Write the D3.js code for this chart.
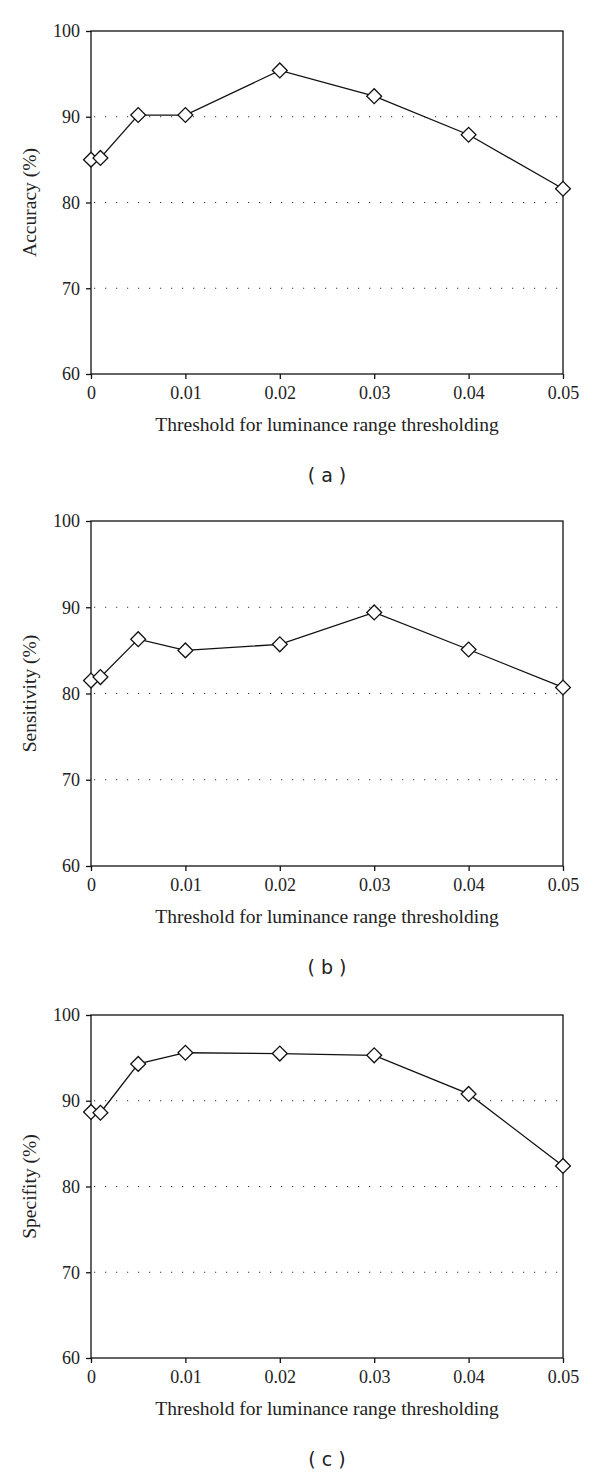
<!DOCTYPE html>
<html><head><meta charset="utf-8">
<script src="https://cdn.jsdelivr.net/npm/d3@7"></script>
<style>body{margin:0;background:#fff}</style>
</head><body>
<script>
const thresholds = [0, 0.001, 0.005, 0.01, 0.02, 0.03, 0.04, 0.05];
const accuracy    = [85.0, 85.2, 90.2, 90.2, 95.4, 92.4, 87.9, 81.6];
const sensitivity = [81.5, 81.9, 86.3, 85.0, 85.7, 89.4, 85.1, 80.7];
const specifity   = [88.7, 88.6, 94.3, 95.6, 95.5, 95.3, 90.8, 82.4];
const xTicks = [0, 0.01, 0.02, 0.03, 0.04, 0.05];
const xTickLabels = ["0", "0.01", "0.02", "0.03", "0.04", "0.05"];
const yTicks = [60, 70, 80, 90, 100];
const gridValues = [70, 80, 90];
const panelTitles = ["Accuracy (%)", "Sensitivity (%)", "Specifity (%)"];
const captions = ["( a )", "( b )", "( c )"];
const xTitle = "Threshold for luminance range thresholding";

const series = [accuracy, sensitivity, specifity];
const layout = [{top: 31, bottom: 374}, {top: 521, bottom: 866}, {top: 1015, bottom: 1358}];
const left = 91, right = 563;
const serif = "'Liberation Serif', 'DejaVu Serif', serif";

const svg = d3.select("body").append("svg").attr("width", 600).attr("height", 1476);

series.forEach((vals, i) => {
  const L = layout[i];
  const x = d3.scaleLinear().domain([0, 0.05]).range([left, right]);
  const y = d3.scaleLinear().domain([60, 100]).range([L.bottom, L.top]);
  const g = svg.append("g");

  // gridlines
  g.selectAll("line.grid").data(gridValues).enter().append("line")
    .attr("x1", left + 3).attr("x2", right - 4)
    .attr("y1", d => y(d)).attr("y2", d => y(d))
    .attr("stroke", "#333").attr("stroke-width", 1.2)
    .attr("stroke-dasharray", "1.2,9.8");

  // frame
  g.append("rect").attr("x", left).attr("y", L.top)
    .attr("width", right - left).attr("height", L.bottom - L.top)
    .attr("fill", "none").attr("stroke", "#111").attr("stroke-width", 1.3);

  // y axis
  const ya = g.append("g").attr("transform", `translate(${left},0)`)
    .call(d3.axisLeft(y).tickValues(yTicks).tickSize(5).tickPadding(6).tickFormat(d3.format("d")));
  ya.select(".domain").remove();
  ya.selectAll("line").attr("stroke", "#111").attr("stroke-width", 1.3);
  ya.selectAll("text").attr("font-family", serif).attr("font-size", 18).attr("fill", "#222");

  // x axis
  const xa = g.append("g").attr("transform", `translate(0,${L.bottom})`)
    .call(d3.axisBottom(x).tickValues(xTicks).tickSize(5).tickPadding(7)
      .tickFormat((d, k) => xTickLabels[k]));
  xa.select(".domain").remove();
  xa.selectAll("line").attr("stroke", "#111").attr("stroke-width", 1.3);
  xa.selectAll("text").attr("font-family", serif).attr("font-size", 18).attr("fill", "#222");

  // line
  const pts = thresholds.map((t, k) => [t, vals[k]]);
  g.append("path").datum(pts)
    .attr("d", d3.line().x(d => x(d[0])).y(d => y(d[1])))
    .attr("fill", "none").attr("stroke", "#111").attr("stroke-width", 1.3);

  // markers
  g.selectAll("path.m").data(pts).enter().append("path")
    .attr("d", d3.symbol().type(d3.symbolSquare).size(110))
    .attr("transform", d => `translate(${x(d[0])},${y(d[1])}) rotate(45)`)
    .attr("fill", "#fff").attr("stroke", "#111").attr("stroke-width", 1.3);

  // x title
  g.append("text").attr("x", (left + right) / 2).attr("y", L.bottom + 53)
    .attr("text-anchor", "middle").attr("dominant-baseline", "middle")
    .attr("font-family", serif).attr("font-size", 19.5).attr("fill", "#222").text(xTitle);

  // y title
  g.append("text").attr("transform", `translate(32,${(L.top + L.bottom) / 2}) rotate(-90)`)
    .attr("text-anchor", "middle").attr("dominant-baseline", "middle")
    .attr("font-family", serif).attr("font-size", 19.5).attr("fill", "#222").text(panelTitles[i]);

  // caption
  g.append("text").attr("x", (left + right) / 2).attr("y", L.bottom + 102)
    .attr("text-anchor", "middle").attr("dominant-baseline", "middle")
    .attr("font-family", "'DejaVu Sans', Verdana, sans-serif").attr("font-size", 19)
    .attr("fill", "#222").text(captions[i]);
});
</script>
</body></html>
